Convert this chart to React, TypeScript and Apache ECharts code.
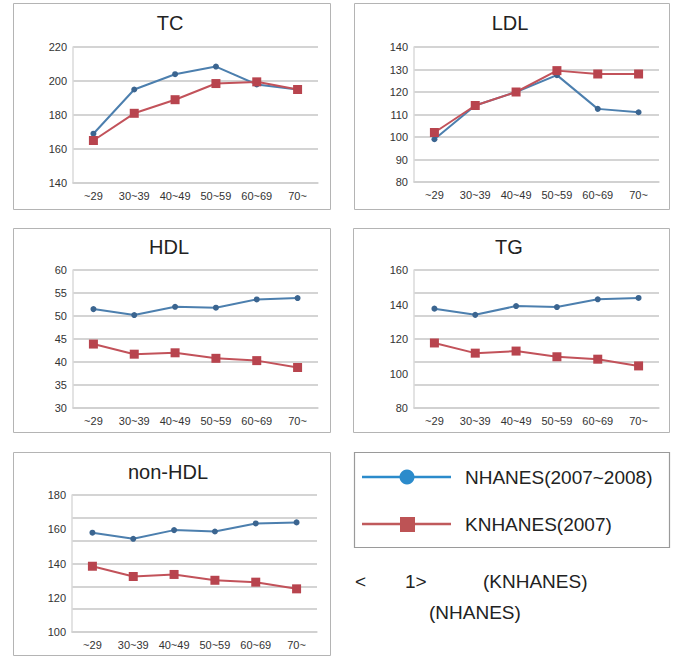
import React, { useEffect, useRef } from "react";
import * as echarts from "echarts";

const categories = ["~29", "30~39", "40~49", "50~59", "60~69", "70~"];
const panelTitles = ["TC", "LDL", "HDL", "TG", "non-HDL"];
const seriesNames = ["NHANES(2007~2008)", "KNHANES(2007)"];

const tcNhanes = [169, 195, 204, 208.5, 198, 195];
const tcKnhanes = [165, 181, 189, 198.5, 199.5, 195];
const ldlNhanes = [99, 114, 120, 127.5, 112.5, 111];
const ldlKnhanes = [102, 114, 120, 129.5, 128, 128];
const hdlNhanes = [51.5, 50.2, 52, 51.8, 53.6, 53.9];
const hdlKnhanes = [43.9, 41.7, 42.0, 40.8, 40.3, 38.8];
const tgNhanes = [137.6, 134.0, 139.1, 138.5, 143.0, 143.8];
const tgKnhanes = [117.7, 111.8, 113.0, 109.7, 108.3, 104.4];
const nonHdlNhanes = [158.0, 154.4, 159.5, 158.7, 163.4, 164.0];
const nonHdlKnhanes = [138.4, 132.4, 133.6, 130.2, 129.1, 125.2];

const yMins = [140, 80, 30, 80, 100];
const yMaxs = [220, 140, 60, 160, 180];
const yIntervals = [20, 10, 5, 20, 20];
const gridSteps = [4, 6, 6, 6, 6];

const FONT = "'Liberation Sans', Arial, sans-serif";

export default function App() {
  const ref = useRef<HTMLDivElement>(null);
  useEffect(() => {
    if (!ref.current) return;
    const chart = echarts.init(ref.current, undefined, { renderer: "svg" });
    const nh = [tcNhanes, ldlNhanes, hdlNhanes, tgNhanes, nonHdlNhanes];
    const kn = [tcKnhanes, ldlKnhanes, hdlKnhanes, tgKnhanes, nonHdlKnhanes];
    const grids = [
      { left: 73, top: 47, width: 245, height: 136 },
      { left: 414, top: 47, width: 245, height: 135 },
      { left: 73, top: 270, width: 245, height: 138 },
      { left: 414, top: 270, width: 245, height: 138 },
      { left: 72, top: 495, width: 245, height: 137 },
    ];
    const boxes = [
      [13.5, 3.5, 317, 206],
      [354.5, 3.5, 315, 206],
      [13.5, 228.5, 317, 204],
      [353.5, 228.5, 316, 204],
      [13.5, 452.5, 317, 203],
    ];
    const titleCenters = [
      [170, 23],
      [510, 23],
      [169, 247],
      [509, 247],
      [168, 472],
    ];
    const xAxis: any[] = [];
    const yAxis: any[] = [];
    const series: any[] = [];
    panelTitles.forEach((_, i) => {
      xAxis.push({
        type: "category",
        gridIndex: i,
        data: categories,
        boundaryGap: true,
        axisLine: { show: true, lineStyle: { color: "#cfcfcf", width: 1.5 } },
        axisTick: { show: false },
        axisLabel: { fontSize: 11, color: "#333", margin: 7, fontFamily: FONT },
        splitLine: { show: false },
      });
      const separate = gridSteps[i] * yIntervals[i] !== yMaxs[i] - yMins[i];
      const primaryIndex = yAxis.length;
      yAxis.push({
        type: "value",
        gridIndex: i,
        min: yMins[i],
        max: yMaxs[i],
        interval: yIntervals[i],
        axisLine: { show: true, lineStyle: { color: "#dadada", width: 1.5 } },
        axisTick: { show: false },
        axisLabel: { fontSize: 11, color: "#333", margin: 6, fontFamily: FONT },
        splitLine: { show: !separate, lineStyle: { color: "#c6c6c6", width: 1.5 } },
      });
      if (separate) {
        yAxis.push({
          type: "value",
          gridIndex: i,
          min: 0,
          max: gridSteps[i],
          interval: 1,
          axisLine: { show: false },
          axisTick: { show: false },
          axisLabel: { show: false },
          splitLine: { show: true, lineStyle: { color: "#c6c6c6", width: 1.5 } },
        });
      }
      series.push({
        type: "line",
        name: seriesNames[0],
        xAxisIndex: i,
        yAxisIndex: primaryIndex,
        data: nh[i],
        symbol: "circle",
        symbolSize: 6,
        lineStyle: { color: "#4c7fae", width: 2 },
        itemStyle: { color: "#3b6590" },
      });
      series.push({
        type: "line",
        name: seriesNames[1],
        xAxisIndex: i,
        yAxisIndex: primaryIndex,
        data: kn[i],
        symbol: "rect",
        symbolSize: 9,
        lineStyle: { color: "#c2525a", width: 2 },
        itemStyle: { color: "#b8444e" },
      });
    });
    const graphic: any[] = [];
    boxes.forEach((b) => {
      graphic.push({
        type: "rect",
        shape: { x: b[0], y: b[1], width: b[2], height: b[3] },
        style: { fill: "none", stroke: "#b4b4b4", lineWidth: 1 },
        silent: true,
      });
    });
    panelTitles.forEach((t, i) => {
      graphic.push({
        type: "text",
        x: titleCenters[i][0],
        y: titleCenters[i][1],
        style: {
          text: t,
          fontSize: 20,
          fontFamily: FONT,
          fill: "#222",
          align: "center",
          verticalAlign: "middle",
        },
      });
    });
    // legend box
    graphic.push({
      type: "rect",
      shape: { x: 354.5, y: 452.5, width: 315, height: 95 },
      style: { fill: "none", stroke: "#9a9a9a", lineWidth: 1.2 },
    });
    graphic.push({
      type: "line",
      shape: { x1: 362, y1: 477, x2: 451, y2: 477 },
      style: { stroke: "#2b8bcb", lineWidth: 2.5 },
    });
    graphic.push({
      type: "circle",
      shape: { cx: 407, cy: 477, r: 7.5 },
      style: { fill: "#2b8bcb" },
    });
    graphic.push({
      type: "line",
      shape: { x1: 362, y1: 524, x2: 451, y2: 524 },
      style: { stroke: "#c05a5c", lineWidth: 2.5 },
    });
    graphic.push({
      type: "rect",
      shape: { x: 400, y: 517, width: 15, height: 15 },
      style: { fill: "#bd5355" },
    });
    const textItems: [string, number, number][] = [
      [seriesNames[0], 465, 477],
      [seriesNames[1], 465, 524],
      ["<", 355, 581],
      ["1>", 405, 581],
      ["(KNHANES)", 483, 581],
      ["(NHANES)", 429, 612],
    ];
    textItems.forEach(([t, x, y]) => {
      graphic.push({
        type: "text",
        x,
        y,
        style: {
          text: t,
          fontSize: 19,
          fontFamily: FONT,
          fill: "#222",
          align: "left",
          verticalAlign: "middle",
        },
      });
    });
    chart.setOption({
      animation: false,
      backgroundColor: "#ffffff",
      grid: grids,
      xAxis,
      yAxis,
      series,
      graphic,
    });
    return () => chart.dispose();
  }, []);
  return (
    <div
      ref={ref}
      style={{ position: "fixed", left: 0, top: 0, width: 674, height: 658 }}
    />
  );
}
